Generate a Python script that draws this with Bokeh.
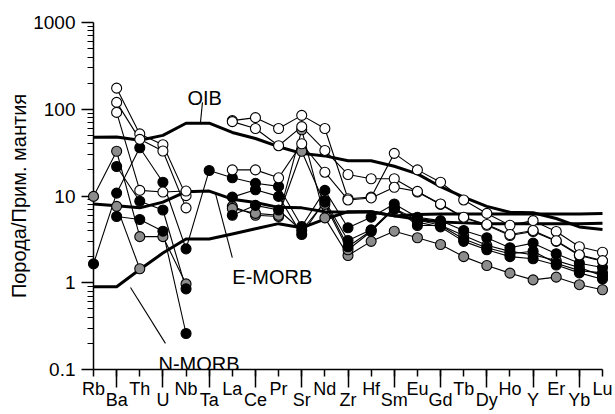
import numpy as np
from bokeh.plotting import figure
from bokeh.models import (Range1d, FixedTicker, Label, PrintfTickFormatter, CustomJSTickFormatter)
from bokeh.embed import file_html
from bokeh.resources import INLINE

nan = float("nan")

elements = ["Rb", "Ba", "Th", "U", "Nb", "Ta", "La", "Ce", "Pr", "Sr", "Nd", "Zr",
            "Hf", "Sm", "Eu", "Gd", "Tb", "Dy", "Ho", "Y", "Er", "Yb", "Lu"]

# reference compositions
oib = [47.6, 48, 44, 50, 69, 69, 54, 46, 37, 31, 29, 25.5, 25.5, 22, 18, 12.8, 9.7, 7.6, 6.5, 6.4, 5.5, 4.4, 4.1]
emorb = [8.1, 7.7, 7.3, 8.5, 11.2, 11.4, 9.2, 8.4, 7.4, 7.3, 6.6, 6.5, 6.6, 5.9, 5.4, 5.0, 4.9, 4.8, 4.8, 4.8, 4.8, 4.8, 4.85]
nmorb = [0.9, 0.9, 1.42, 2.2, 3.2, 3.2, 3.65, 4.2, 4.8, 4.3, 5.4, 6.6, 6.6, 5.9, 6.1, 6.2, 6.2, 6.2, 6.2, 6.2, 6.2, 6.2, 6.3]

# samples: open symbols
open_1 = [nan, 175, 52, 39, 10.1, nan, 74, 80, 60, 85, 60, 9.3, 9.7, 31, 20, 14.4, 9.0, 6.3, 4.6, 5.2, 3.9, 2.6, 2.25]
open_2 = [nan, 120, 45, 33, 7.3, nan, 72, 60, 38, 63, 33.5, 17.7, 15.8, 15.8, 11.1, 8.0, 5.6, 4.6, 3.5, 3.9, 3.0, 2.06, 1.77]
open_3 = [nan, 92, 11.6, 11.1, 11.4, nan, 20, 20, 16.2, 40, 18.8, 9.0, 9.5, 12.6, 11.3, 8.1, 5.7, 4.7, 3.6, 4.0, 3.05, 2.1, 1.8]
# samples: black symbols
black_1 = [1.65, 10.8, 36, 14.4, 2.46, 19.7, 16.2, 14, 12.9, 4.45, 11.6, 4.3, 5.7, 8.1, 5.7, 5.2, 4.0, 3.3, 2.53, 2.86, 2.16, 1.68, 1.5]
black_2 = [nan, 21.9, 8.7, 6.9, 0.85, nan, 9.7, 11.8, 9.9, 3.6, 8.8, 3.07, 4.07, 7.4, 4.57, 4.57, 3.2, 2.53, 2.16, 2.31, 1.68, 1.38, 1.3]
black_3 = [nan, 5.8, 5.36, 3.93, 0.26, nan, 6.0, 7.8, 6.9, 4.0, 8.5, 2.6, 4.0, 7.0, 5.0, 4.4, 3.0, 2.4, 2.0, 1.89, 1.6, 1.3, 1.1]
# samples: grey symbols
grey_1 = [9.9, 32.8, 3.4, 3.4, 0.97, nan, 7.6, 6.0, 5.8, 58, 5.6, 2.06, 3.0, 3.93, 3.3, 2.76, 2.0, 1.58, 1.29, 1.08, 1.16, 0.95, 0.83]
grey_2 = [nan, 7.6, 1.45, nan, nan, nan, 7.2, 6.3, 6.0, 32.8, 8.0, 2.4, 3.9, 7.2, 5.3, 4.6, 3.5, 2.7, 2.3, 2.1, 1.8, 1.5, 1.2]

y_ticks = [0.1, 1, 10, 100, 1000]

FONT = "Liberation Sans"
x = list(range(len(elements)))

p = figure(width=615, height=414, x_range=Range1d(0, len(elements) - 1),
           y_range=Range1d(0.1, 1000), y_axis_type="log",
           output_backend="svg", toolbar_location=None,
           min_border_left=93, min_border_right=13, min_border_top=22, min_border_bottom=45)
p.outline_line_color = None
p.xgrid.visible = False
p.ygrid.visible = False
p.background_fill_color = "white"

# y axis
minor = [k * 10.0 ** e for e in range(-1, 3) for k in range(2, 10)]
p.yaxis.ticker = FixedTicker(ticks=y_ticks, minor_ticks=minor)
p.yaxis.formatter = PrintfTickFormatter(format="%g")
p.yaxis.major_tick_out = 12
p.yaxis.major_tick_in = 0
p.yaxis.minor_tick_out = 6
p.yaxis.minor_tick_in = 0
p.yaxis.axis_line_width = 1.5
p.yaxis.major_tick_line_width = 1.5
p.yaxis.minor_tick_line_width = 1.2
p.yaxis.major_label_text_font = FONT
p.yaxis.major_label_text_font_size = "19px"
p.yaxis.major_label_text_color = "black"
p.yaxis.major_label_standoff = 6
p.yaxis.axis_label = "Порода/Прим. мантия"
p.yaxis.axis_label_text_font = FONT
p.yaxis.axis_label_text_font_size = "20px"
p.yaxis.axis_label_text_font_style = "normal"
p.yaxis.axis_label_text_color = "black"
p.yaxis.axis_label_standoff = 0

# x axis: every element labelled, alternate names dropped to a second row;
# short major ticks everywhere, long (minor) ticks under the second-row names
lower_idx = [i for i in x if i % 2 == 1]
p.xaxis.ticker = FixedTicker(ticks=x, minor_ticks=lower_idx)
p.xaxis.formatter = CustomJSTickFormatter(
    args=dict(names=elements),
    code="const i = Math.round(tick); return (i % 2 == 1 ? '\\n' : '') + names[i];")
p.xaxis.major_tick_out = 7
p.xaxis.major_tick_in = 0
p.xaxis.minor_tick_out = 18
p.xaxis.minor_tick_in = 0
p.xaxis.axis_line_width = 1.5
p.xaxis.major_tick_line_width = 1.5
p.xaxis.minor_tick_line_width = 1.5
p.xaxis.major_label_text_font = FONT
p.xaxis.major_label_text_font_size = "18px"
p.xaxis.major_label_text_line_height = 0.55
p.xaxis.major_label_text_color = "black"
p.xaxis.major_label_standoff = -9

samples = [
    (open_1, "white"), (open_2, "white"), (open_3, "white"),
    (black_1, "black"), (black_2, "black"), (black_3, "black"),
    (grey_1, "#8c8c8c"), (grey_2, "#8c8c8c"),
]

# thin sample lines
for ys, col in samples:
    p.line(x, ys, line_color="black", line_width=1.1, level="annotation")

# thick reference lines
for ys in (oib, emorb, nmorb):
    p.line(x, ys, line_color="black", line_width=3, line_join="round", level="annotation")

# leaders for labels
p.segment(x0=[4.71, 5.27, 1.6], y0=[120, 10.7, 0.88], x1=[4.62, 6.0, 3.11], y1=[69, 1.95, 0.2],
          line_color="black", line_width=1.1)

for fill in ("#8c8c8c", "black", "white"):
    for ys, col in samples:
        if col == fill:
            p.scatter(x, ys, marker="circle", size=10, fill_color=col,
                      line_color="black", line_width=1.1, level="annotation")

for txt, lx, ly in (("OIB", 4.06, 136), ("E-MORB", 6.0, 1.15), ("N-MORB", 2.81, 0.117)):
    p.add_layout(Label(x=lx, y=ly, text=txt, text_align="left", text_baseline="alphabetic",
                       text_font=FONT, text_font_size="20px", text_color="black"))

open("out.html", "w").write(file_html(p, INLINE))
